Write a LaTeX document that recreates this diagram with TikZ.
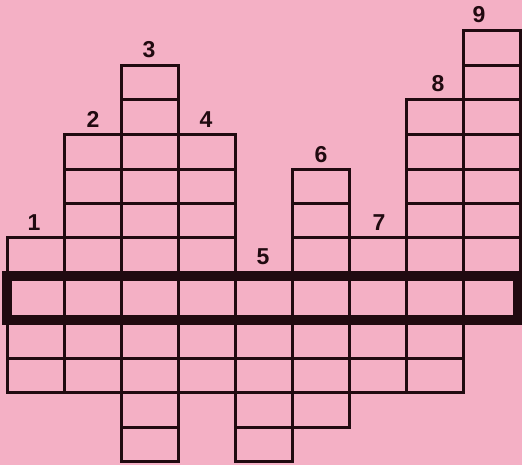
\documentclass[tikz,border=0pt]{standalone}
\usepackage{fontspec}
\setmainfont{Liberation Sans}
\usepackage{tikz}
\definecolor{pagepink}{RGB}{244,176,197}
\definecolor{inkdark}{RGB}{32,10,16}

\begin{document}
\begin{tikzpicture}[x=1pt, y=-1pt,
          gridline/.style={draw=inkdark, line width=3pt},
          bandline/.style={draw=inkdark, line width=10pt},
          numlabel/.style={anchor=base, text=inkdark, inner sep=0pt,
                           font=\fontsize{23}{23}\selectfont\bfseries}]
          \fill[pagepink] (0,0) rectangle (522,465);
          \useasboundingbox (0,0) rectangle (522,465);
          % columns: number / top line / bottom line
          \foreach \i/\yt/\yb in {1/238/392, 2/135/392, 3/66/461, 4/135/392,
                                 5/276/461, 6/170/427, 7/238/392, 8/100/392, 9/31/320} {
            \pgfmathsetmacro\xl{7+57.1*(\i-1)}
            \pgfmathsetmacro\xr{\xl+57.1}
            \draw[gridline] (\xl,\yt) rectangle (\xr,\yb);
            \foreach \y in {66,100,135,170,204,238,276,320,358,392,427} {
              \ifdim\y pt>\yt pt \ifdim\y pt<\yb pt
                \draw[gridline] (\xl,\y) -- (\xr,\y);
              \fi\fi
            }
          }
          % the solution row
          \draw[bandline] (7,276) rectangle (518,320);
          % clue numbers
          \foreach \i/\lx/\ly in {1/34/230, 2/93/128, 3/149/58, 4/206/128, 5/263/265,
                                 6/321/163, 7/379/231, 8/438/92, 9/479/23}
            \node[numlabel] (num\i) at (\lx,\ly) {\i};
        \end{tikzpicture}
\end{document}
